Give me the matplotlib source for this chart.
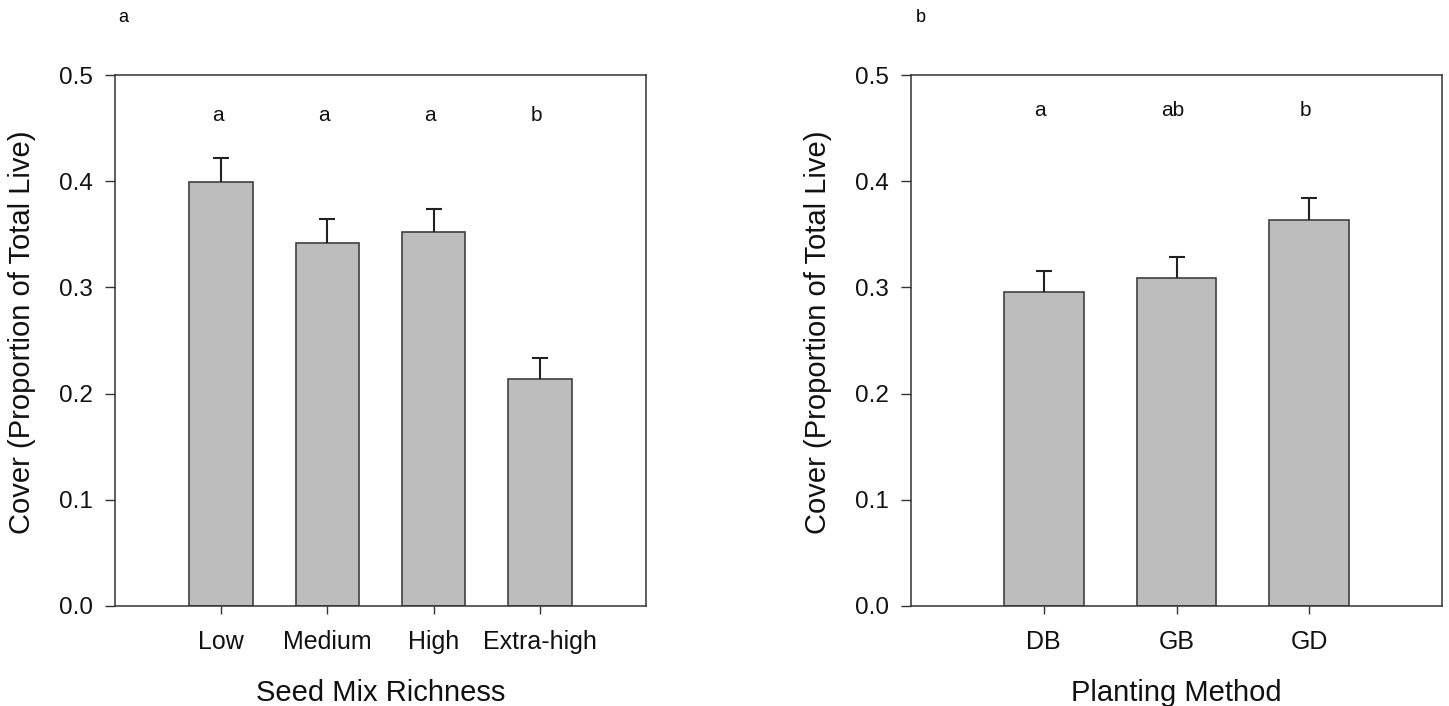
import matplotlib
matplotlib.use("Agg")
import matplotlib.pyplot as plt
import numpy as np

plt.rcParams['font.family'] = ['Liberation Sans', 'DejaVu Sans']

# panel a - seed mix richness
richness = ["Low", "Medium", "High", "Extra-high"]
richness_mean = [0.399, 0.342, 0.352, 0.214]
richness_se = [0.023, 0.022, 0.022, 0.0195]
richness_letters = ["a", "a", "a", "b"]

# panel b - planting method
method = ["DB", "GB", "GD"]
method_mean = [0.296, 0.309, 0.3635]
method_se = [0.0195, 0.0195, 0.0205]
method_letters = ["a", "ab", "b"]

letter_y_a = 0.462
letter_y_b = 0.467

bar_color = "#bdbdbd"
edge_color = "#404040"
axis_color = "#333333"


def draw_panel(ax, cats, means, ses, letters, letter_y, xlabel):
    x = np.arange(1, len(cats) + 1)
    ax.bar(x, means, width=0.6, color=bar_color, edgecolor=edge_color, linewidth=1.2, zorder=2)
    _, caps, _ = ax.errorbar(x, means, yerr=[np.zeros(len(ses)), ses], fmt='none', ecolor='#222222',
                             elinewidth=1.5, capsize=6, capthick=1.5, zorder=3)
    # only keep the upper caps
    for cl in caps:
        if np.allclose(cl.get_ydata(), means):
            cl.set_visible(False)
    for xi, lab in zip(x, letters):
        ax.text(xi - 0.03, letter_y, lab, ha='center', va='center', fontsize=15, color='#111111')
    ax.set_xlim(0, len(cats) + 1)
    ax.set_ylim(0, 0.5)
    ax.set_xticks(x)
    ax.set_xticklabels(cats, fontsize=18)
    ax.set_yticks([0.0, 0.1, 0.2, 0.3, 0.4, 0.5])
    ax.set_yticklabels(["0.0", "0.1", "0.2", "0.3", "0.4", "0.5"], fontsize=17.5)
    ax.tick_params(axis='y', direction='out', length=7, width=1, pad=9, colors=axis_color, labelcolor='#111111')
    ax.tick_params(axis='x', direction='out', length=6, width=1, pad=11, colors=axis_color, labelcolor='#111111')
    for s in ax.spines.values():
        s.set_color(axis_color)
        s.set_linewidth(1.1)
    ax.set_xlabel(xlabel, fontsize=21, labelpad=18, color='#111111')
    ax.set_ylabel("Cover (Proportion of Total Live)", fontsize=21, color='#111111')
    ax.yaxis.set_label_coords(-0.148, 0.515)


fig = plt.figure(figsize=(14.49, 7.06), dpi=100)
ax1 = fig.add_axes([115 / 1449, 100 / 706, 531 / 1449, 531 / 706])
ax2 = fig.add_axes([911 / 1449, 100 / 706, 531 / 1449, 531 / 706])

draw_panel(ax1, richness, richness_mean, richness_se, richness_letters, letter_y_a, "Seed Mix Richness")
draw_panel(ax2, method, method_mean, method_se, method_letters, letter_y_b, "Planting Method")

fig.text(118 / 1449, 1 - 18 / 706, "a", fontsize=13, ha='left', va='center')
fig.text(916 / 1449, 1 - 18 / 706, "b", fontsize=13, ha='left', va='center')

fig.savefig("out.png", dpi=100)
